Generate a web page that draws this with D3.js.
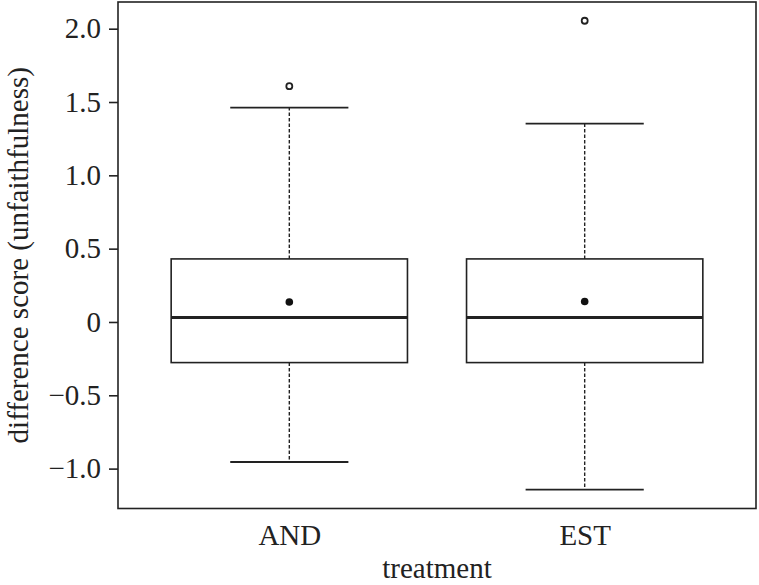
<!DOCTYPE html>
<html>
<head>
<meta charset="utf-8">
<script src="https://cdn.jsdelivr.net/npm/d3@7"></script>
<style>
  html, body { margin: 0; padding: 0; background: #fff; }
  svg { display: block; }
  text { font-family: "Liberation Serif", "Times New Roman", serif; fill: #222; }
</style>
</head>
<body>
<svg id="chart" width="759" height="585"></svg>
<script>
// ---- data ----
const categories = ["AND", "EST"];
const lowerWhisker = [-0.955, -1.143];
const q1 = [-0.277, -0.277];
const median = [0.03, 0.03];
const q3 = [0.43, 0.43];
const upperWhisker = [1.462, 1.352];
const means = [0.136, 0.14];
const outliers = [[1.608], [2.054]];
const yTicks = [-1.0, -0.5, 0, 0.5, 1.0, 1.5, 2.0];
const yTickLabels = ["\u22121.0", "\u22120.5", "0", "0.5", "1.0", "1.5", "2.0"];
const xTitle = "treatment";
const yTitle = "difference score (unfaithfulness)";

// ---- layout ----
const svg = d3.select("#chart");
const padL = 118, padR = 756, padT = 2, padB = 508.5;
const ink = "#222";
const fs = 29;

const x = d3.scalePoint().domain(categories).range([padL, padR]).padding(0.58);
const step = x.step();
const y = d3.scaleLinear().domain([-1.272, 2.182]).range([padB, padT]);

const boxW = step * 0.8;
const capW = step * 0.4;

const data = categories.map((c, i) => ({
  c, lo: lowerWhisker[i], q1: q1[i], med: median[i], q3: q3[i],
  hi: upperWhisker[i], mean: means[i], out: outliers[i]
}));

const g = svg.append("g");
const groups = g.selectAll("g.box").data(data).join("g").attr("class", "box");

// whiskers (dashed)
groups.append("line")
  .attr("x1", d => x(d.c)).attr("x2", d => x(d.c))
  .attr("y1", d => y(d.q3)).attr("y2", d => y(d.hi))
  .attr("stroke", ink).attr("stroke-width", 1.4).attr("stroke-dasharray", "3.5,2");
groups.append("line")
  .attr("x1", d => x(d.c)).attr("x2", d => x(d.c))
  .attr("y1", d => y(d.q1)).attr("y2", d => y(d.lo))
  .attr("stroke", ink).attr("stroke-width", 1.4).attr("stroke-dasharray", "3.5,2");
// caps
groups.append("line")
  .attr("x1", d => x(d.c) - capW / 2).attr("x2", d => x(d.c) + capW / 2)
  .attr("y1", d => y(d.hi)).attr("y2", d => y(d.hi))
  .attr("stroke", ink).attr("stroke-width", 1.8);
groups.append("line")
  .attr("x1", d => x(d.c) - capW / 2).attr("x2", d => x(d.c) + capW / 2)
  .attr("y1", d => y(d.lo)).attr("y2", d => y(d.lo))
  .attr("stroke", ink).attr("stroke-width", 1.8);
// box
groups.append("rect")
  .attr("x", d => x(d.c) - boxW / 2).attr("width", boxW)
  .attr("y", d => y(d.q3)).attr("height", d => y(d.q1) - y(d.q3))
  .attr("fill", "#fff").attr("stroke", ink).attr("stroke-width", 1.6);
// median
groups.append("line")
  .attr("x1", d => x(d.c) - boxW / 2).attr("x2", d => x(d.c) + boxW / 2)
  .attr("y1", d => y(d.med)).attr("y2", d => y(d.med))
  .attr("stroke", ink).attr("stroke-width", 3);
// mean
groups.append("circle")
  .attr("cx", d => x(d.c)).attr("cy", d => y(d.mean)).attr("r", 3.8)
  .attr("fill", "#111");
// outliers
groups.selectAll("circle.out").data(d => d.out.map(v => ({c: d.c, v})))
  .join("circle").attr("class", "out")
  .attr("cx", d => x(d.c)).attr("cy", d => y(d.v)).attr("r", 3)
  .attr("fill", "#fff").attr("stroke", ink).attr("stroke-width", 1.8);

// frame
g.append("rect")
  .attr("x", padL).attr("y", padT).attr("width", padR - padL).attr("height", padB - padT)
  .attr("fill", "none").attr("stroke", ink).attr("stroke-width", 1.6);

// y axis
const yAxis = d3.axisLeft(y).tickValues(yTicks).tickSize(9).tickPadding(8)
  .tickFormat((d, i) => yTickLabels[i]);
const ya = svg.append("g").attr("transform", `translate(${padL},0)`).call(yAxis);
ya.select(".domain").remove();
ya.selectAll(".tick line").attr("stroke", ink).attr("stroke-width", 1.6);
ya.selectAll(".tick text").attr("font-size", fs).attr("font-family", "Liberation Serif, serif").attr("fill", ink);

// x axis labels (no tick marks)
const xAxis = d3.axisBottom(x).tickSize(0).tickPadding(0);
const xa = svg.append("g").attr("transform", `translate(0,${padB})`).call(xAxis);
xa.select(".domain").remove();
xa.selectAll(".tick text").attr("dy", null).attr("y", 36)
  .attr("font-size", fs).attr("font-family", "Liberation Serif, serif").attr("fill", ink);

// titles
svg.append("text").attr("x", (padL + padR) / 2).attr("y", 578)
  .attr("text-anchor", "middle").attr("font-size", fs).text(xTitle);
svg.append("text")
  .attr("transform", `translate(28,${(padT + padB) / 2}) rotate(-90)`)
  .attr("text-anchor", "middle").attr("font-size", fs).text(yTitle);
</script>
</body>
</html>
